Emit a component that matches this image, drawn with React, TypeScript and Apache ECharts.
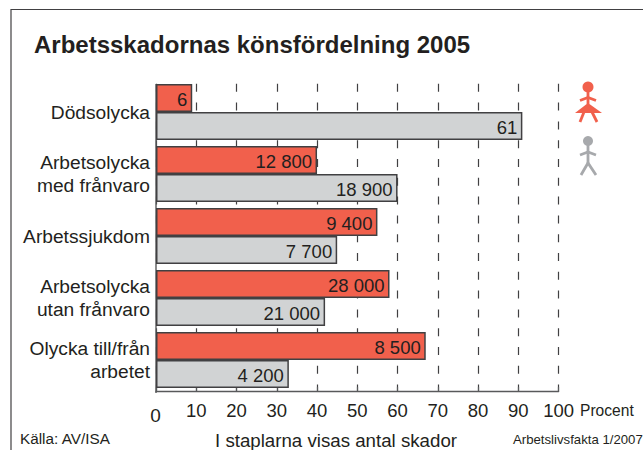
import React, { useEffect, useRef } from "react";
import * as echarts from "echarts";

const categories = ["Dödsolycka", "Arbetsolycka\nmed frånvaro", "Arbetssjukdom", "Arbetsolycka\nutan frånvaro", "Olycka till/från\narbetet"];
const womenPercent = [9, 40, 55, 58, 67];
const menPercent = [91, 60, 45, 42, 33];
const womenLabels = ["6", "12 800", "9 400", "28 000", "8 500"];
const menLabels = ["61", "18 900", "7 700", "21 000", "4 200"];

const FONT = "'Liberation Sans', Arial, sans-serif";
const INK = "#231F20";
const EDGE = "#414042";
const RED = "#F1604C";
const GRAY = "#D1D3D4";
const ICON_GRAY = "#A7A9AC";

const txt = (text: string, x: number, y: number, fontSize: number, extra: any = {}) => ({
  type: "text", x, y, silent: true,
  style: { text, fontSize, fontFamily: FONT, fill: INK, textVerticalAlign: "middle", verticalAlign: "middle", ...extra },
});
const stroke = (points: number[][], color: string, lineWidth = 2.8) => ({
  type: "polyline", shape: { points }, silent: true, style: { stroke: color, fill: "none", lineWidth },
});

export default function App() {
  const ref = useRef<HTMLDivElement>(null);
  useEffect(() => {
    const chart = echarts.init(ref.current!, undefined, { renderer: "svg" });
    const series = (data: number[], labels: string[], color: string) => ({
      type: "bar", data, barWidth: 28, barGap: 0,
      itemStyle: { color, borderColor: EDGE, borderWidth: 1.5 },
      label: {
        show: true, position: "insideRight", distance: 5, offset: [0, 1], color: INK, fontSize: 18.5, fontFamily: FONT,
        formatter: (p: any) => labels[p.dataIndex],
      },
    });
    chart.setOption({
      animation: false,
      backgroundColor: "#fff",
      grid: { left: 156, right: 84.4, top: 81, bottom: 59 },
      xAxis: {
        type: "value", min: 0, max: 100, interval: 10,
        axisLine: { show: true, lineStyle: { color: "#58595B", width: 1.4 } },
        axisTick: { show: true, inside: true, length: 4, lineStyle: { color: "#58595B", width: 1.2 } },
        axisLabel: {
          margin: 10, color: INK, fontSize: 18.5, fontFamily: FONT,
          formatter: (v: number) => (v === 0 ? "{z|0}" : "{n|" + v + "}"),
          rich: {
            z: { fontSize: 19, fontFamily: FONT, color: INK, padding: [5, 1, 0, 0] },
            n: { fontSize: 18.5, fontFamily: FONT, color: INK },
          },
        },
        splitLine: {
          show: true,
          lineStyle: { color: "#414042", width: 1.2, type: [8, 10.8], dashOffset: 15.8 },
        },
      },
      yAxis: {
        type: "category", inverse: true, data: categories,
        axisLine: { show: false }, axisTick: { show: false },
        axisLabel: { margin: 6, color: INK, fontSize: 19.2, fontFamily: FONT, lineHeight: 23, align: "right" },
      },
      series: [series(womenPercent, womenLabels, RED), series(menPercent, menLabels, GRAY)],
      graphic: [
        stroke([[11, 450], [11, 9.5], [643, 9.5]], "#414042", 1.2),
        { type: "line", silent: true, z: 1, shape: { x1: 156, y1: 84, x2: 156, y2: 393 }, style: { stroke: "#58595B", lineWidth: 1.4 } },
        txt("Arbetsskadornas könsfördelning 2005", 34, 44.5, 24, { fontWeight: "bold" }),
        txt("Procent", 580, 410.5, 15.6),
        txt("Källa: AV/ISA", 20, 438, 15.3),
        txt("I staplarna visas antal skador", 215, 440.5, 18.7),
        txt("Arbetslivsfakta 1/2007", 513, 439, 13.2),
        { type: "circle", silent: true, shape: { cx: 588, cy: 87, r: 5.5 }, style: { fill: RED } },
        stroke([[588, 92], [588, 104]], RED),
        stroke([[580, 100.5], [588, 97.5], [596, 100.5]], RED),
        { type: "polygon", silent: true, shape: { points: [[588, 103], [575, 113], [602, 113]] }, style: { fill: RED } },
        stroke([[584, 112], [580, 122]], RED),
        stroke([[592, 112], [597, 122]], RED),
        { type: "circle", silent: true, shape: { cx: 588, cy: 141, r: 5 }, style: { fill: ICON_GRAY } },
        stroke([[588, 145], [588, 163]], ICON_GRAY),
        stroke([[580, 155], [588, 152], [596, 155]], ICON_GRAY),
        stroke([[581, 175], [588, 163], [596, 175]], ICON_GRAY),
      ],
    });
    return () => chart.dispose();
  }, []);
  return <div ref={ref} style={{ position: "fixed", left: 0, top: 0, width: 643, height: 450 }} />;
}
